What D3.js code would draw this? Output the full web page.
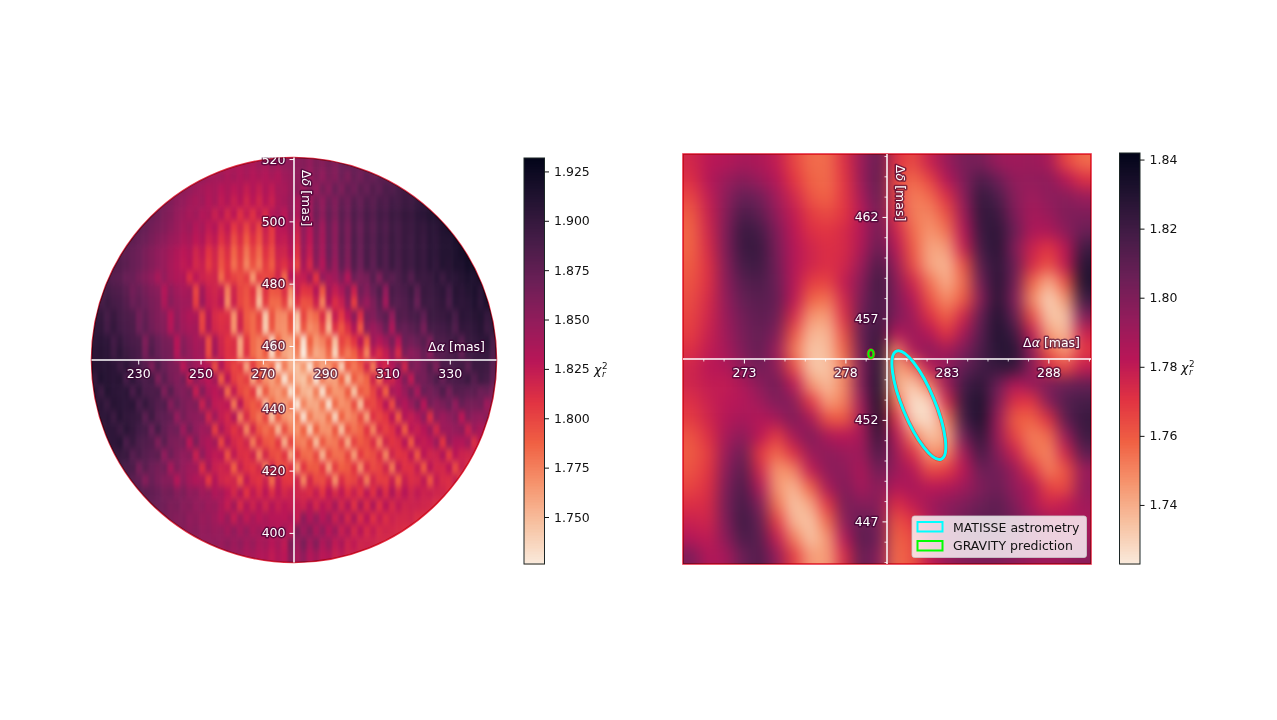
<!DOCTYPE html>
<html>
<head>
<meta charset="utf-8">
<script src="https://cdn.jsdelivr.net/npm/d3@7"></script>
<style>
  html, body { margin: 0; padding: 0; background: white; }
  svg { display: block; }
  text { font-family: "DejaVu Sans", sans-serif; }
</style>
</head>
<body>
<div id="viz"></div>
<script type="text/javascript">

// chi2 maps, in units of 0.001 above 1.7
// left map rows only hold the part of the row that falls inside the circle
var leftRows = [
[136,140,136,142,138,146,142,148,150,152,156,150,160,156,164,158,168,172],
[148,144,140,142,136,140,134,138,132,136,132,138,134,142,146,150,154,146,158,150,162,156,168,160,172,166,176,172,180,178],
[152,148,144,140,136,138,130,136,128,134,124,132,124,134,126,138,138,146,152,144,158,148,164,154,170,160,174,166,178,172,182,176,186,184,190,194],
[164,158,152,148,142,138,142,132,138,126,134,122,130,118,128,118,130,122,136,140,148,136,154,142,162,150,168,158,174,166,180,172,184,178,188,184,192,190,196,194,200,204],
[170,166,160,156,148,144,138,142,132,136,122,132,116,128,110,124,110,126,114,132,138,128,150,134,158,142,166,152,172,160,178,168,184,176,188,182,192,188,196,194,200,198,204,206,210,212],
[176,172,166,162,158,152,146,140,144,132,138,126,132,116,126,106,118,100,118,100,122,106,128,130,142,122,150,132,160,142,168,152,176,162,182,170,186,178,190,184,194,190,198,196,202,200,206,206,212,216],
[180,176,172,168,162,156,152,146,142,136,138,128,134,120,126,110,120,96,112,90,110,94,118,104,126,124,136,116,148,128,158,140,168,152,178,162,184,172,188,180,192,186,196,190,198,194,202,198,206,204,210,210,216,220],
[180,176,172,168,162,156,150,146,140,134,128,132,118,126,108,118,98,112,86,104,80,100,84,110,96,120,118,130,110,144,124,156,138,168,150,176,160,184,170,188,178,192,184,196,190,198,194,202,198,206,204,210,210,214,218,222],
[184,182,178,172,168,162,156,150,146,138,132,126,130,116,122,104,116,94,108,82,100,74,94,78,104,90,116,110,122,100,138,116,152,132,164,146,174,158,182,168,188,176,192,184,196,188,198,194,202,198,206,202,210,208,214,214,220,222],
[184,180,178,170,170,162,156,150,138,148,138,134,134,112,128,120,116,118,84,110,102,96,104,66,104,98,102,118,84,130,122,124,140,108,148,138,142,158,132,168,160,164,180,160,184,178,186,194,182,198,196,198,204,196,206,206,210,214,212,218],
[186,190,186,184,178,166,170,164,158,154,132,150,142,138,140,100,140,122,118,124,76,118,100,94,108,60,110,92,94,112,68,122,108,110,132,92,140,124,136,158,122,166,156,170,184,150,188,184,188,196,178,198,196,200,204,192,208,206,210,214,206,218],
[194,190,196,190,188,182,170,174,168,162,158,136,154,146,142,142,104,144,124,120,128,72,120,100,92,104,50,104,84,84,102,56,110,94,96,120,76,130,112,122,150,104,156,146,160,178,142,184,180,184,192,172,196,194,198,202,188,206,204,206,212,204,214,208],
[200,200,190,198,190,186,184,166,174,164,158,154,130,150,140,134,136,100,134,114,110,112,68,116,90,84,100,44,94,72,70,94,46,100,78,84,112,64,124,106,128,152,112,162,158,170,178,150,184,182,188,190,176,196,196,198,202,190,206,204,208,210,200,206],
[202,202,192,200,192,188,186,168,176,166,160,156,132,152,142,138,140,102,136,116,112,114,68,118,92,84,98,42,92,70,68,90,40,92,70,76,100,52,110,92,112,134,92,152,144,152,170,136,176,172,178,184,164,190,190,192,196,184,202,200,204,208,196,202],
[204,206,204,192,200,192,188,186,160,180,170,164,162,130,154,146,138,140,96,138,118,108,112,60,108,84,76,92,38,86,66,60,82,32,88,66,74,94,48,102,92,108,130,92,142,132,144,162,130,170,166,172,180,162,186,186,190,196,180,198,200,204,206,188],
[206,208,206,194,204,196,192,188,164,184,172,166,164,132,156,148,140,142,98,140,120,110,112,62,110,84,74,90,36,84,60,54,74,26,78,58,64,84,38,92,78,88,110,74,124,112,124,146,114,160,152,158,172,154,182,180,186,190,174,194,196,198,200,184],
[208,208,208,206,196,204,194,188,182,160,184,170,162,160,128,152,144,134,134,96,134,112,100,106,60,106,82,68,84,32,78,54,48,66,30,76,60,66,86,40,92,78,90,118,78,126,116,132,156,118,164,156,166,182,160,188,186,190,194,178,196,196,194,178],
[200,212,208,206,208,190,204,192,186,190,160,178,164,158,164,124,152,136,128,140,90,130,104,96,104,60,96,68,62,78,30,70,50,46,70,30,78,60,62,88,44,90,76,86,118,82,126,118,134,158,126,166,164,174,186,172,188,188,190,196,182,194,190,174],
[206,196,210,206,204,206,188,202,188,186,188,160,180,162,158,164,124,156,136,128,136,84,124,100,92,106,50,92,70,64,78,32,72,54,50,76,32,82,66,68,90,46,92,84,100,122,88,138,132,146,164,138,170,164,170,184,164,182,180,176,178,168,170,160],
[200,206,198,208,206,204,206,188,200,190,182,184,156,172,162,156,160,122,150,126,124,128,80,128,98,90,98,48,84,68,62,78,28,74,58,58,78,32,84,68,72,96,50,104,98,110,130,98,142,132,146,164,130,164,156,162,170,150,172,164,164,166,144,152],
[198,204,206,196,208,202,200,198,178,194,178,176,174,148,164,154,152,154,118,142,124,116,132,76,114,92,80,100,46,92,68,62,78,32,78,62,62,82,38,88,70,76,98,62,110,100,108,128,90,132,124,134,150,112,152,144,150,158,128,158,150,148,154,132],
[198,204,204,196,206,200,192,190,170,190,174,166,168,144,166,150,142,146,104,136,120,108,118,74,116,92,82,92,52,96,74,68,88,42,88,68,68,92,48,94,80,86,108,74,114,102,110,128,90,128,122,130,144,116,144,144,148,152,122,144,136,134],
[202,204,208,188,198,186,184,182,160,178,162,160,162,128,160,140,134,140,100,132,116,110,118,78,112,94,90,106,56,100,78,74,92,50,92,76,78,98,58,102,90,96,112,74,118,108,112,130,92,130,124,128,144,108,146,134,132,142,112,130],
[198,198,198,180,188,180,176,178,150,168,156,150,154,122,150,134,126,130,94,126,112,110,120,76,116,98,94,108,60,104,84,82,98,54,96,82,82,100,64,106,92,96,112,74,118,108,110,126,92,128,118,120,134,104,128,120,118,124],
[192,188,186,164,178,168,164,166,138,158,148,142,142,112,140,122,118,122,88,122,110,106,116,76,116,98,96,110,64,108,90,90,106,62,104,88,92,108,70,112,98,102,118,80,124,110,110,124,92,128,116,116,128,98,122,114],
[184,178,174,156,170,162,156,156,132,150,140,134,136,106,132,118,114,118,90,126,112,108,120,84,124,108,106,118,74,116,98,96,112,70,112,98,100,116,78,116,104,104,122,88,122,112,114,126,94,124,114,112,122,96],
[180,178,174,170,164,166,156,160,150,152,142,146,134,138,128,116,132,108,126,114,128,112,126,116,122,118,116,112,124,108,128,114,126,110,122,108,128,110,132,112,134,116,130,118,126,120,122,118,118,112],
[172,168,166,160,162,154,156,148,150,144,146,136,124,140,114,134,120,132,118,132,122,128,124,124,120,134,116,130,122,138,116,134,110,136,112,134,110,130,114,126,118,120,120,118,116,112],
[164,160,156,158,150,152,146,148,142,134,146,124,142,126,138,128,136,130,130,128,136,124,152,134,148,130,144,122,138,116,136,112,130,110,124,112,120,116,116,118,112,112],
[156,152,154,148,150,146,148,140,150,138,148,136,142,134,136,130,142,126,160,142,156,136,150,130,144,122,136,116,130,114,124,114,118,116,114,112],
[150,148,150,146,152,144,150,140,146,136,140,130,138,126,160,144,162,140,156,134,146,126,136,120,126,118,120,118,116,114],
[142,136,138,132,134,126,134,128,154,138,150,132,140,128,132,122,126,120]
];

var rightRows = [
[75,82,84,88,86,80,66,56,56,72,92,108,72,64,78,92,102,102,92,90,92,88,66,56],
[72,84,92,98,92,84,70,58,56,70,92,110,66,56,66,84,100,116,106,94,94,96,84,72],
[66,80,96,108,104,90,76,62,58,70,88,108,68,52,56,72,96,124,116,98,90,96,98,92],
[60,78,98,116,110,94,80,68,64,70,84,104,72,52,50,62,90,124,122,100,88,92,100,100],
[58,76,100,122,118,100,82,72,70,74,84,104,78,56,46,54,84,122,126,106,86,86,96,106],
[58,74,100,122,122,102,84,76,72,74,86,108,84,60,42,44,78,118,128,100,78,70,82,120],
[60,72,98,118,120,104,84,76,72,76,92,116,92,64,42,38,62,112,126,106,74,62,80,128],
[62,72,96,112,116,106,84,68,66,80,98,120,98,76,54,40,56,104,128,104,58,40,62,130],
[64,74,94,108,112,108,82,58,54,76,102,118,100,84,62,48,60,98,128,100,50,30,46,120],
[66,76,92,104,110,106,74,46,44,72,106,118,100,90,72,58,76,108,130,108,64,34,34,100],
[68,78,90,102,108,100,62,38,38,64,108,122,84,92,84,70,88,112,130,120,80,44,36,78],
[72,80,88,100,108,92,54,34,36,58,104,126,50,86,96,88,100,116,128,128,96,60,44,70],
[76,82,84,96,104,96,64,34,34,52,100,128,42,52,82,96,108,118,124,124,96,74,64,80],
[76,80,80,86,96,104,82,46,36,50,100,130,42,32,52,90,118,126,106,84,92,102,106,108],
[72,78,82,84,90,100,98,70,44,52,92,132,56,26,30,74,122,132,100,72,70,98,114,118],
[68,76,84,88,84,88,100,88,62,60,88,130,72,30,26,52,118,132,92,60,58,72,110,122],
[62,72,88,96,82,68,88,100,86,82,88,124,84,52,34,42,104,126,92,66,52,56,92,120],
[60,68,92,106,70,56,72,92,96,92,90,116,92,72,46,50,88,118,98,78,56,50,76,110],
[62,70,96,112,76,46,50,80,96,96,86,106,92,84,64,68,82,106,104,92,72,52,62,92],
[66,72,100,116,86,46,38,58,88,100,88,98,84,88,82,84,90,100,106,94,86,66,64,94],
[72,74,102,118,100,54,34,42,70,102,98,98,72,80,90,96,100,106,110,100,86,76,80,90],
[78,76,100,120,108,68,38,34,56,96,108,102,62,70,84,96,104,110,110,104,94,88,84,88],
[84,80,96,116,112,80,52,34,46,84,112,104,58,64,80,96,104,106,106,100,94,90,88,90],
[100,84,88,106,114,94,68,44,44,74,108,98,56,62,80,92,98,100,100,96,92,90,92,96]
];

var leftCols = 64;

// tick labels
var leftXTicks = [230, 250, 270, 290, 310, 330];
var leftYTicks = [400, 420, 440, 460, 480, 500, 520];
var rightXTicks = [273, 278, 283, 288];
var rightYTicks = [447, 452, 457, 462];
var rightXMinor = [271, 272, 274, 275, 276, 277, 279, 280, 281, 282, 284, 285, 286, 287, 289, 290];
var rightYMinor = [445, 446, 448, 449, 450, 451, 453, 454, 455, 456, 458, 459, 460, 461, 463, 464, 465];
var leftBarTicks = [1.75, 1.775, 1.8, 1.825, 1.85, 1.875, 1.9, 1.925];
var rightBarTicks = [1.74, 1.76, 1.78, 1.8, 1.82, 1.84];

// ranges of the two colour scales
var leftBarDomain = [1.7262, 1.9318];
var rightBarDomain = [1.7229, 1.8419];

// rocket_r
var rocketStops = ["#faebdd", "#f7c2a2", "#f6946d", "#f06043", "#e13342", "#b91657", "#921c5b", "#6a1f56", "#451c47", "#221331", "#03051a"];
var rocket = d3.piecewise(d3.interpolateRgb, rocketStops);

// ellipses in mas: centre, semi axes, tilt of the long axis from vertical
var matisseCentre = [281.62, 452.73], matisseAxes = [0.8, 2.88], matisseTilt = -22.5;
var gravityCentre = [279.26, 455.25], gravityAxes = [0.13, 0.2], gravityTilt = 0;
var legendLabels = ["MATISSE astrometry", "GRAVITY prediction"];
var legendColors = ["#00ffff", "#00ff00"];

var svg = d3.select("#viz").append("svg").attr("width", 1277).attr("height", 720);
var defs = svg.append("defs");

function chi2(v) { return 1.7 + v / 1000; }

function blurFilter(id, sd) {
    defs.append("filter").attr("id", id)
        .attr("filterUnits", "userSpaceOnUse")
        .attr("x", 0).attr("y", 0).attr("width", 1277).attr("height", 720)
        .attr("color-interpolation-filters", "sRGB")
        .append("feGaussianBlur").attr("stdDeviation", sd);
}
blurFilter("blurLeft", "1.6 3.6");
blurFilter("blurRight", "7.5");

function drawCells(g, rows, nCols, box, domain) {
    var colX = d3.scaleBand().domain(d3.range(nCols)).range([box.x0, box.x1]);
    var rowY = d3.scaleBand().domain(d3.range(rows.length)).range([box.y0, box.y1]);
    var color = d3.scaleSequential(rocket).domain(domain).clamp(true);
    var cells = [];
    rows.forEach(function(row, r) {
        var start = Math.round((nCols - row.length) / 2);
        row.forEach(function(v, i) {
            cells.push({c: start + i, r: r, v: v, first: i == 0, last: i == row.length - 1});
        });
    });
    var pad = 24;  // outer cells run on under the clip so the blur does not fade at the rim
    g.selectAll("rect").data(cells).join("rect")
        .attr("x", function(d) { return colX(d.c) - (d.first ? pad : 0); })
        .attr("y", function(d) { return rowY(d.r) - (d.r == 0 ? pad : 0); })
        .attr("width", function(d) { return colX.bandwidth() + 0.6 + (d.first ? pad : 0) + (d.last ? pad : 0); })
        .attr("height", function(d) { return rowY.bandwidth() + 0.6 + (d.r == 0 || d.r == rows.length - 1 ? pad : 0); })
        .attr("fill", function(d) { return color(chi2(d.v)); });
}

function haloText(sel) {
    sel.attr("fill", "white")
        .attr("stroke", "#3a0030").attr("stroke-opacity", 0.6).attr("stroke-width", 3)
        .attr("stroke-linejoin", "round").attr("paint-order", "stroke");
}

function drawAxes(x, y, xTicks, yTicks, xAt, yAt, box, clipId) {
    var gx = svg.append("g").attr("transform", "translate(0," + y(yAt) + ")")
        .call(d3.axisBottom(x).tickValues(xTicks).tickFormat(d3.format("d")).tickSize(4.5).tickPadding(5));
    var clipped = svg.append("g");
    if (clipId) clipped.attr("clip-path", "url(#" + clipId + ")");
    var gy = clipped.append("g").attr("transform", "translate(" + x(xAt) + ",0)")
        .call(d3.axisLeft(y).tickValues(yTicks).tickFormat(d3.format("d")).tickSize(4.5).tickPadding(4));
    [gx, gy].forEach(function(g) {
        g.select(".domain").remove();
        g.selectAll("line").attr("stroke", "white").attr("stroke-width", 1);
        g.selectAll("text").attr("font-size", 12.5).call(haloText);
    });
    svg.append("line").attr("x1", box.x0).attr("x2", box.x1).attr("y1", y(yAt)).attr("y2", y(yAt))
        .attr("stroke", "white").attr("stroke-width", 1.5);
    svg.append("line").attr("x1", x(xAt)).attr("x2", x(xAt)).attr("y1", box.y0).attr("y2", box.y1)
        .attr("stroke", "white").attr("stroke-width", 1.5);
}

function axisLabels(xPos, yPos) {
    svg.append("text").attr("x", xPos[0]).attr("y", xPos[1]).attr("font-size", 12.5).attr("text-anchor", "end")
        .text("Δα [mas]").call(haloText)
        .each(function() { italicGreek(this, "Δ", "α", " [mas]"); });
    svg.append("text").attr("transform", "translate(" + yPos[0] + "," + yPos[1] + ") rotate(90)")
        .attr("font-size", 12.5)
        .text("Δδ [mas]").call(haloText)
        .each(function() { italicGreek(this, "Δ", "δ", " [mas]"); });
}

function italicGreek(node, a, b, c) {
    var t = d3.select(node).text(null);
    t.append("tspan").text(a);
    t.append("tspan").attr("font-style", "italic").text(b);
    t.append("tspan").text(c);
}

function colorbar(x0, x1, y0, y1, domain, ticks, fmt, labelX, labelY) {
    var y = d3.scaleLinear().domain(domain).range([y1, y0]);
    var color = d3.scaleSequential(rocket).domain(domain);
    var step = (domain[1] - domain[0]) / 256;
    var levels = d3.range(256).map(function(i) { return domain[0] + step * i; });
    svg.append("g").attr("shape-rendering", "crispEdges").selectAll("rect").data(levels).join("rect")
        .attr("x", x0).attr("width", x1 - x0)
        .attr("y", function(d) { return y(d + step); })
        .attr("height", function(d) { return y(d) - y(d + step) + 1; })
        .attr("fill", function(d) { return color(d + step / 2); });
    svg.append("rect").attr("x", x0).attr("y", y0).attr("width", x1 - x0).attr("height", y1 - y0)
        .attr("fill", "none").attr("stroke", "#1c2626").attr("stroke-width", 1);
    var g = svg.append("g").attr("transform", "translate(" + x1 + ",0)")
        .call(d3.axisRight(y).tickValues(ticks).tickFormat(d3.format(fmt)).tickSize(4.5).tickPadding(5));
    g.select(".domain").remove();
    g.selectAll("line").attr("stroke", "#111").attr("stroke-width", 1);
    g.selectAll("text").attr("font-size", 12.5).attr("fill", "#111");
    // chi^2_r label
    var lab = svg.append("g").attr("fill", "#111");
    lab.append("text").attr("x", labelX).attr("y", labelY).attr("font-size", 12.5).attr("font-style", "italic").text("χ");
    lab.append("text").attr("x", labelX + 8).attr("y", labelY - 5).attr("font-size", 8.8).text("2");
    lab.append("text").attr("x", labelX + 8).attr("y", labelY + 3).attr("font-size", 8.8).attr("font-style", "italic").text("r");
}

// ---- left panel
var leftBox = {x0: 91.5, x1: 496.5, y0: 157.5, y1: 562.5};
var leftX = d3.scaleLinear().domain([215, 345]).range([91.5, 496.5]);
var leftY = d3.scaleLinear().domain([390.5, 520.5]).range([562.5, 157.5]);

defs.append("clipPath").attr("id", "clipCircle").append("circle")
    .attr("cx", leftX(280)).attr("cy", leftY(455.5)).attr("r", leftX(345) - leftX(280));
defs.append("clipPath").attr("id", "clipTop").append("rect")
    .attr("x", 0).attr("y", 157.5).attr("width", 1277).attr("height", 500);

var leftMap = svg.append("g").attr("clip-path", "url(#clipCircle)")
    .append("g").attr("filter", "url(#blurLeft)");
drawCells(leftMap, leftRows, leftCols, leftBox, leftBarDomain);

svg.append("circle").attr("cx", leftX(280)).attr("cy", leftY(455.5)).attr("r", leftX(345) - leftX(280))
    .attr("fill", "none").attr("stroke", "#e8304a").attr("stroke-width", 1.6)
    .style("mix-blend-mode", "multiply");

drawAxes(leftX, leftY, leftXTicks, leftYTicks, 280, 455.5, leftBox, "clipTop");
axisLabels([485, 351], [302, 170]);
colorbar(524, 544.5, 158, 564, leftBarDomain, leftBarTicks, ".3f", 594, 374);

// ---- right panel
var rightBox = {x0: 683, x1: 1091, y0: 154, y1: 564};
var rightX = d3.scaleLinear().domain([270, 290.1]).range([683, 1091]);
var rightY = d3.scaleLinear().domain([444.9, 465.1]).range([564, 154]);

defs.append("clipPath").attr("id", "clipSquare").append("rect")
    .attr("x", 683).attr("y", 154).attr("width", 408).attr("height", 410);

var rightMap = svg.append("g").attr("clip-path", "url(#clipSquare)")
    .append("g").attr("filter", "url(#blurRight)");
drawCells(rightMap, rightRows, rightRows[0].length, rightBox, rightBarDomain);

svg.append("rect").attr("x", 683).attr("y", 154).attr("width", 408).attr("height", 410)
    .attr("fill", "none").attr("stroke", "#e8304a").attr("stroke-width", 1.6)
    .style("mix-blend-mode", "multiply");

// minor ticks
var minorX = svg.append("g").attr("transform", "translate(0," + rightY(455) + ")")
    .call(d3.axisBottom(rightX).tickValues(rightXMinor).tickFormat("").tickSize(2.5));
var minorY = svg.append("g").attr("transform", "translate(" + rightX(280.05) + ",0)")
    .call(d3.axisLeft(rightY).tickValues(rightYMinor).tickFormat("").tickSize(2.5));
[minorX, minorY].forEach(function(g) {
    g.select(".domain").remove();
    g.selectAll("line").attr("stroke", "white").attr("stroke-width", 0.8);
});

drawAxes(rightX, rightY, rightXTicks, rightYTicks, 280.05, 455, rightBox);
axisLabels([1080, 347], [896, 165]);

function drawEllipse(centre, axes, tilt, color, width) {
    var cx = rightX(centre[0]), cy = rightY(centre[1]);
    var rx = rightX(centre[0] + axes[0]) - cx, ry = cy - rightY(centre[1] + axes[1]);
    var g = svg.append("g").attr("transform", "rotate(" + tilt + " " + cx + " " + cy + ")");
    g.append("ellipse").attr("cx", cx).attr("cy", cy).attr("rx", rx).attr("ry", ry)
        .attr("fill", "none").attr("stroke", "#e8402a").attr("stroke-opacity", 0.7).attr("stroke-width", width + 1.4);
    g.append("ellipse").attr("cx", cx).attr("cy", cy).attr("rx", rx).attr("ry", ry)
        .attr("fill", "none").attr("stroke", color).attr("stroke-width", width);
}
drawEllipse(matisseCentre, matisseAxes, matisseTilt, legendColors[0], 3);
drawEllipse(gravityCentre, gravityAxes, gravityTilt, legendColors[1], 2);

// legend
var legend = svg.append("g");
legend.append("rect").attr("x", 912).attr("y", 516).attr("width", 174.5).attr("height", 41.5).attr("rx", 2.5)
    .attr("fill", "white").attr("fill-opacity", 0.8).attr("stroke", "#cccccc").attr("stroke-opacity", 0.8).attr("stroke-width", 1);
legendLabels.forEach(function(label, i) {
    legend.append("rect").attr("x", 917.5).attr("y", 522 + i * 19).attr("width", 25).attr("height", 9.5)
        .attr("fill", "none").attr("stroke", legendColors[i]).attr("stroke-width", 2);
    legend.append("text").attr("x", 953).attr("y", 531.5 + i * 18.8).attr("font-size", 12.5).attr("fill", "#111").text(label);
});

colorbar(1119.5, 1140, 153, 564, rightBarDomain, rightBarTicks, ".2f", 1181, 372);

</script>
</body>
</html>
